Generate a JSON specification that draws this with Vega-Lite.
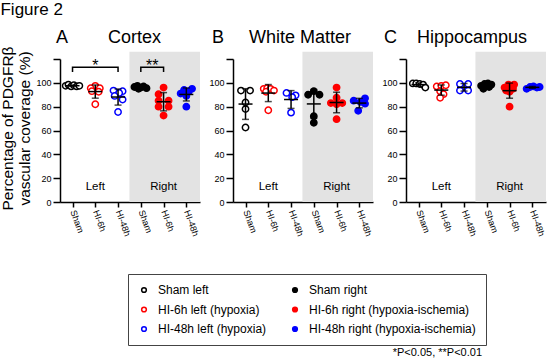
{
  "$schema": "https://vega.github.io/schema/vega-lite/v6.json",
  "padding": {"left": 0, "top": 0, "right": 2, "bottom": 0},
  "config": {
    "font": "Liberation Sans",
    "view": {"stroke": null},
    "title": {"fontWeight": "normal", "color": "black", "font": "Liberation Sans"},
    "axis": {"grid": false, "domainColor": "black", "tickColor": "black", "domainWidth": 1.5, "tickWidth": 1.5, "labelColor": "black", "titleColor": "black", "labelOverlap": false},
    "legend": {"columns": 2, "columnPadding": 22, "rowPadding": 7.5, "padding": 10, "strokeColor": "#444", "labelFontSize": 12, "labelColor": "black", "labelLimit": 400, "symbolSize": 22, "symbolStrokeWidth": 1.5, "labelOffset": 8}
  },
  "datasets": {
    "pts": [
      {"r":"Cortex","k":"Sham left","p":1,"x":0.7,"v":97.5},
      {"r":"Cortex","k":"Sham left","p":1,"x":0.82,"v":98.5},
      {"r":"Cortex","k":"Sham left","p":1,"x":0.94,"v":97},
      {"r":"Cortex","k":"Sham left","p":1,"x":1.06,"v":98},
      {"r":"Cortex","k":"Sham left","p":1,"x":1.18,"v":97},
      {"r":"Cortex","k":"Sham left","p":1,"x":1.3,"v":97.5},
      {"r":"Cortex","k":"HI-6h left (hypoxia)","p":2,"x":2.0,"v":97.5},
      {"r":"Cortex","k":"HI-6h left (hypoxia)","p":2,"x":1.8,"v":95.5},
      {"r":"Cortex","k":"HI-6h left (hypoxia)","p":2,"x":2.2,"v":95.5},
      {"r":"Cortex","k":"HI-6h left (hypoxia)","p":2,"x":1.85,"v":93},
      {"r":"Cortex","k":"HI-6h left (hypoxia)","p":2,"x":2.15,"v":92.5},
      {"r":"Cortex","k":"HI-6h left (hypoxia)","p":2,"x":2.0,"v":82},
      {"r":"Cortex","k":"HI-48h left (hypoxia)","p":3,"x":2.8,"v":93.5},
      {"r":"Cortex","k":"HI-48h left (hypoxia)","p":3,"x":3.2,"v":93},
      {"r":"Cortex","k":"HI-48h left (hypoxia)","p":3,"x":3.05,"v":91.5},
      {"r":"Cortex","k":"HI-48h left (hypoxia)","p":3,"x":2.85,"v":89},
      {"r":"Cortex","k":"HI-48h left (hypoxia)","p":3,"x":3.2,"v":86},
      {"r":"Cortex","k":"HI-48h left (hypoxia)","p":3,"x":3.0,"v":75.5},
      {"r":"Cortex","k":"Sham right","p":4,"x":3.72,"v":96.5},
      {"r":"Cortex","k":"Sham right","p":4,"x":3.85,"v":97.5},
      {"r":"Cortex","k":"Sham right","p":4,"x":4.0,"v":96},
      {"r":"Cortex","k":"Sham right","p":4,"x":4.12,"v":97},
      {"r":"Cortex","k":"Sham right","p":4,"x":4.25,"v":95.5},
      {"r":"Cortex","k":"Sham right","p":4,"x":3.9,"v":95},
      {"r":"Cortex","k":"HI-6h right (hypoxia-ischemia)","p":5,"x":5.0,"v":96},
      {"r":"Cortex","k":"HI-6h right (hypoxia-ischemia)","p":5,"x":4.78,"v":90.5},
      {"r":"Cortex","k":"HI-6h right (hypoxia-ischemia)","p":5,"x":4.78,"v":85},
      {"r":"Cortex","k":"HI-6h right (hypoxia-ischemia)","p":5,"x":5.22,"v":85},
      {"r":"Cortex","k":"HI-6h right (hypoxia-ischemia)","p":5,"x":4.78,"v":80},
      {"r":"Cortex","k":"HI-6h right (hypoxia-ischemia)","p":5,"x":5.22,"v":80},
      {"r":"Cortex","k":"HI-6h right (hypoxia-ischemia)","p":5,"x":5.0,"v":72.5},
      {"r":"Cortex","k":"HI-48h right (hypoxia-ischemia)","p":6,"x":5.75,"v":91},
      {"r":"Cortex","k":"HI-48h right (hypoxia-ischemia)","p":6,"x":5.9,"v":94},
      {"r":"Cortex","k":"HI-48h right (hypoxia-ischemia)","p":6,"x":6.1,"v":92.5},
      {"r":"Cortex","k":"HI-48h right (hypoxia-ischemia)","p":6,"x":6.25,"v":95},
      {"r":"Cortex","k":"HI-48h right (hypoxia-ischemia)","p":6,"x":6.0,"v":89},
      {"r":"Cortex","k":"HI-48h right (hypoxia-ischemia)","p":6,"x":6.0,"v":80},
      {"r":"White Matter","k":"Sham left","p":1,"x":0.8,"v":93.5},
      {"r":"White Matter","k":"Sham left","p":1,"x":1.2,"v":93.5},
      {"r":"White Matter","k":"Sham left","p":1,"x":1.0,"v":83.5},
      {"r":"White Matter","k":"Sham left","p":1,"x":1.0,"v":78},
      {"r":"White Matter","k":"Sham left","p":1,"x":1.0,"v":62.5},
      {"r":"White Matter","k":"HI-6h left (hypoxia)","p":2,"x":1.8,"v":95},
      {"r":"White Matter","k":"HI-6h left (hypoxia)","p":2,"x":1.95,"v":95.5},
      {"r":"White Matter","k":"HI-6h left (hypoxia)","p":2,"x":2.1,"v":95},
      {"r":"White Matter","k":"HI-6h left (hypoxia)","p":2,"x":2.25,"v":93.5},
      {"r":"White Matter","k":"HI-6h left (hypoxia)","p":2,"x":1.9,"v":92.5},
      {"r":"White Matter","k":"HI-6h left (hypoxia)","p":2,"x":2.0,"v":77},
      {"r":"White Matter","k":"HI-48h left (hypoxia)","p":3,"x":2.8,"v":91.5},
      {"r":"White Matter","k":"HI-48h left (hypoxia)","p":3,"x":3.2,"v":89.5},
      {"r":"White Matter","k":"HI-48h left (hypoxia)","p":3,"x":3.05,"v":88},
      {"r":"White Matter","k":"HI-48h left (hypoxia)","p":3,"x":3.0,"v":75},
      {"r":"White Matter","k":"Sham right","p":4,"x":4.0,"v":93},
      {"r":"White Matter","k":"Sham right","p":4,"x":3.75,"v":90},
      {"r":"White Matter","k":"Sham right","p":4,"x":4.25,"v":90},
      {"r":"White Matter","k":"Sham right","p":4,"x":4.0,"v":72},
      {"r":"White Matter","k":"Sham right","p":4,"x":4.0,"v":66.5},
      {"r":"White Matter","k":"HI-6h right (hypoxia-ischemia)","p":5,"x":5.0,"v":96},
      {"r":"White Matter","k":"HI-6h right (hypoxia-ischemia)","p":5,"x":5.0,"v":87.5},
      {"r":"White Matter","k":"HI-6h right (hypoxia-ischemia)","p":5,"x":4.75,"v":83},
      {"r":"White Matter","k":"HI-6h right (hypoxia-ischemia)","p":5,"x":5.0,"v":82},
      {"r":"White Matter","k":"HI-6h right (hypoxia-ischemia)","p":5,"x":5.25,"v":83},
      {"r":"White Matter","k":"HI-6h right (hypoxia-ischemia)","p":5,"x":5.0,"v":69.5},
      {"r":"White Matter","k":"HI-48h right (hypoxia-ischemia)","p":6,"x":5.75,"v":85},
      {"r":"White Matter","k":"HI-48h right (hypoxia-ischemia)","p":6,"x":6.25,"v":87},
      {"r":"White Matter","k":"HI-48h right (hypoxia-ischemia)","p":6,"x":6.05,"v":84},
      {"r":"White Matter","k":"HI-48h right (hypoxia-ischemia)","p":6,"x":6.25,"v":82.5},
      {"r":"White Matter","k":"HI-48h right (hypoxia-ischemia)","p":6,"x":5.95,"v":76.5},
      {"r":"Hippocampus","k":"Sham left","p":1,"x":0.75,"v":99.5},
      {"r":"Hippocampus","k":"Sham left","p":1,"x":0.9,"v":99.5},
      {"r":"Hippocampus","k":"Sham left","p":1,"x":1.05,"v":99},
      {"r":"Hippocampus","k":"Sham left","p":1,"x":1.2,"v":98.5},
      {"r":"Hippocampus","k":"Sham left","p":1,"x":1.3,"v":96},
      {"r":"Hippocampus","k":"HI-6h left (hypoxia)","p":2,"x":1.8,"v":97},
      {"r":"Hippocampus","k":"HI-6h left (hypoxia)","p":2,"x":2.0,"v":97.5},
      {"r":"Hippocampus","k":"HI-6h left (hypoxia)","p":2,"x":2.2,"v":98},
      {"r":"Hippocampus","k":"HI-6h left (hypoxia)","p":2,"x":1.95,"v":93},
      {"r":"Hippocampus","k":"HI-6h left (hypoxia)","p":2,"x":2.1,"v":90.5},
      {"r":"Hippocampus","k":"HI-6h left (hypoxia)","p":2,"x":1.95,"v":87.5},
      {"r":"Hippocampus","k":"HI-48h left (hypoxia)","p":3,"x":2.82,"v":99},
      {"r":"Hippocampus","k":"HI-48h left (hypoxia)","p":3,"x":3.18,"v":99},
      {"r":"Hippocampus","k":"HI-48h left (hypoxia)","p":3,"x":2.82,"v":93.5},
      {"r":"Hippocampus","k":"HI-48h left (hypoxia)","p":3,"x":3.18,"v":93.5},
      {"r":"Hippocampus","k":"Sham right","p":4,"x":3.75,"v":97.5},
      {"r":"Hippocampus","k":"Sham right","p":4,"x":3.9,"v":99},
      {"r":"Hippocampus","k":"Sham right","p":4,"x":4.05,"v":99.5},
      {"r":"Hippocampus","k":"Sham right","p":4,"x":4.2,"v":98.5},
      {"r":"Hippocampus","k":"Sham right","p":4,"x":3.85,"v":95},
      {"r":"Hippocampus","k":"Sham right","p":4,"x":4.1,"v":96.5},
      {"r":"Hippocampus","k":"HI-6h right (hypoxia-ischemia)","p":5,"x":4.78,"v":96},
      {"r":"Hippocampus","k":"HI-6h right (hypoxia-ischemia)","p":5,"x":4.95,"v":98.5},
      {"r":"Hippocampus","k":"HI-6h right (hypoxia-ischemia)","p":5,"x":5.2,"v":98.5},
      {"r":"Hippocampus","k":"HI-6h right (hypoxia-ischemia)","p":5,"x":4.85,"v":93.5},
      {"r":"Hippocampus","k":"HI-6h right (hypoxia-ischemia)","p":5,"x":5.15,"v":95},
      {"r":"Hippocampus","k":"HI-6h right (hypoxia-ischemia)","p":5,"x":5.0,"v":92.5},
      {"r":"Hippocampus","k":"HI-6h right (hypoxia-ischemia)","p":5,"x":5.0,"v":80},
      {"r":"Hippocampus","k":"HI-48h right (hypoxia-ischemia)","p":6,"x":5.75,"v":95},
      {"r":"Hippocampus","k":"HI-48h right (hypoxia-ischemia)","p":6,"x":5.9,"v":96.5},
      {"r":"Hippocampus","k":"HI-48h right (hypoxia-ischemia)","p":6,"x":6.05,"v":97},
      {"r":"Hippocampus","k":"HI-48h right (hypoxia-ischemia)","p":6,"x":6.2,"v":96},
      {"r":"Hippocampus","k":"HI-48h right (hypoxia-ischemia)","p":6,"x":6.32,"v":96.5}
    ],
    "shade": [{"x": 3.5, "x2": 6.6, "v": 0, "v2": 126}],
    "sides": [{"x": 2, "v": 12.5, "t": "Left"}, {"x": 5, "v": 12.5, "t": "Right"}],
    "brk": [
      {"b": 1, "o": 1, "x": 1, "v": 109}, {"b": 1, "o": 2, "x": 1, "v": 113}, {"b": 1, "o": 3, "x": 3, "v": 113}, {"b": 1, "o": 4, "x": 3, "v": 109},
      {"b": 2, "o": 1, "x": 4, "v": 109}, {"b": 2, "o": 2, "x": 4, "v": 113}, {"b": 2, "o": 3, "x": 5, "v": 113}, {"b": 2, "o": 4, "x": 5, "v": 109}
    ],
    "stars": [{"x": 2, "v": 110, "t": "*"}, {"x": 4.5, "v": 110, "t": "**"}]
  },
  "title": {"text": "*P<0.05, **P<0.01", "orient": "bottom", "anchor": "end", "fontSize": 11, "dx": -64, "offset": 1},
  "vconcat": [
    {
      "title": {"text": "Figure 2", "anchor": "start", "frame": "bounds", "fontSize": 17, "baseline": "alphabetic", "offset": -3},
      "spacing": 8,
      "hconcat": [
        {
          "width": 140, "height": 143,
          "title": {"text": "A\u00a0\u00a0\u00a0\u00a0\u00a0\u00a0\u00a0\u00a0Cortex", "anchor": "start", "frame": "group", "dx": -4, "fontSize": 18, "baseline": "alphabetic", "offset": -15},
          "data": {"name": "pts"},
          "transform": [{"filter": "datum.r == 'Cortex'"}],
          "encoding": {
            "x": {"field": "x", "type": "quantitative", "scale": {"domain": [0.45, 6.6], "nice": false, "zero": false},
              "axis": {"title": null, "values": [1, 2, 3, 4, 5, 6], "labelExpr": "datum.value % 3 == 1 ? 'Sham' : (datum.value % 3 == 2 ? 'HI-6h' : 'HI-48h')", "labelAngle": 70, "labelAlign": "left", "labelBaseline": "middle", "labelFontSize": 9, "tickSize": 5, "labelPadding": 3}},
            "y": {"field": "v", "type": "quantitative", "scale": {"domain": [0, 120], "nice": false},
              "axis": {"values": [0, 20, 40, 60, 80, 100, 120], "labelExpr": "datum.value > 100 ? '' : datum.label", "tickSize": 7, "labelPadding": 2, "labelFontSize": 9, "title": ["Percentage of PDGFRβ", "vascular coverage (%)"], "titleFontSize": 15.5, "titleFontWeight": "normal", "titlePadding": 3, "titleY": 69}}
          },
          "layer": [
            {"data": {"name": "shade"}, "mark": {"type": "rect", "color": "#e3e3e3"}, "encoding": {"x2": {"field": "x2"}, "y2": {"field": "v2"}}},
            {"data": {"name": "sides"}, "mark": {"type": "text", "fontSize": 11.5, "color": "black", "baseline": "middle"}, "encoding": {"text": {"field": "t"}}},
            {"data": {"name": "brk"}, "mark": {"type": "line", "color": "black", "strokeWidth": 1.5}, "encoding": {"detail": {"field": "b"}, "order": {"field": "o"}}},
            {"data": {"name": "stars"}, "mark": {"type": "text", "fontSize": 16, "color": "black", "baseline": "alphabetic"}, "encoding": {"text": {"field": "t"}}},
            {"mark": {"type": "point", "shape": "circle", "size": 40, "strokeWidth": 1.5, "opacity": 1},
              "encoding": {
                "fill": {"field": "k", "type": "nominal", "scale": {"domain": ["Sham left", "HI-6h left (hypoxia)", "HI-48h left (hypoxia)", "Sham right", "HI-6h right (hypoxia-ischemia)", "HI-48h right (hypoxia-ischemia)"], "range": ["white", "white", "white", "black", "#ff0000", "#0000ff"]}, "legend": {"title": null, "orient": "none", "legendX": 68, "legendY": 215}},
                "stroke": {"field": "k", "type": "nominal", "scale": {"domain": ["Sham left", "HI-6h left (hypoxia)", "HI-48h left (hypoxia)", "Sham right", "HI-6h right (hypoxia-ischemia)", "HI-48h right (hypoxia-ischemia)"], "range": ["black", "#ff0000", "#0000ff", "black", "#ff0000", "#0000ff"]}, "legend": {"title": null, "orient": "none", "legendX": 68, "legendY": 215}}
              }},
            {"mark": {"type": "errorbar", "extent": "stdev", "orient": "vertical", "color": "black", "thickness": 1.5, "ticks": {"size": 7, "thickness": 1.5, "color": "black"}},
              "encoding": {"x": {"field": "p", "type": "quantitative", "scale": {"domain": [0.45, 6.6], "nice": false, "zero": false}}}},
            {"mark": {"type": "tick", "orient": "horizontal", "size": 14, "thickness": 1.5, "color": "black", "opacity": 1},
              "encoding": {"x": {"field": "p", "type": "quantitative", "scale": {"domain": [0.45, 6.6], "nice": false, "zero": false}}, "y": {"aggregate": "mean", "field": "v", "type": "quantitative"}}}
          ]
        },
        {
          "width": 140, "height": 143,
          "title": {"text": "B\u00a0\u00a0\u00a0\u00a0\u00a0White Matter", "anchor": "start", "frame": "group", "dx": -21, "fontSize": 18, "baseline": "alphabetic", "offset": -9},
          "data": {"name": "pts"},
          "transform": [{"filter": "datum.r == 'White Matter'"}],
          "encoding": {
            "x": {"field": "x", "type": "quantitative", "scale": {"domain": [0.45, 6.6], "nice": false, "zero": false},
              "axis": {"title": null, "values": [1, 2, 3, 4, 5, 6], "labelExpr": "datum.value % 3 == 1 ? 'Sham' : (datum.value % 3 == 2 ? 'HI-6h' : 'HI-48h')", "labelAngle": 70, "labelAlign": "left", "labelBaseline": "middle", "labelFontSize": 9, "tickSize": 5, "labelPadding": 3}},
            "y": {"field": "v", "type": "quantitative", "scale": {"domain": [0, 120], "nice": false},
              "axis": {"values": [0, 20, 40, 60, 80, 100, 120], "labelExpr": "datum.value > 100 ? '' : datum.label", "tickSize": 7, "labelPadding": 2, "labelFontSize": 9, "title": null}}
          },
          "layer": [
            {"data": {"name": "shade"}, "mark": {"type": "rect", "color": "#e3e3e3"}, "encoding": {"x2": {"field": "x2"}, "y2": {"field": "v2"}}},
            {"data": {"name": "sides"}, "mark": {"type": "text", "fontSize": 11.5, "color": "black", "baseline": "middle"}, "encoding": {"text": {"field": "t"}}},
            {"mark": {"type": "point", "shape": "circle", "size": 40, "strokeWidth": 1.5, "opacity": 1},
              "encoding": {
                "fill": {"field": "k", "type": "nominal", "scale": {"domain": ["Sham left", "HI-6h left (hypoxia)", "HI-48h left (hypoxia)", "Sham right", "HI-6h right (hypoxia-ischemia)", "HI-48h right (hypoxia-ischemia)"], "range": ["white", "white", "white", "black", "#ff0000", "#0000ff"]}, "legend": {"title": null, "orient": "none", "legendX": 68, "legendY": 215}},
                "stroke": {"field": "k", "type": "nominal", "scale": {"domain": ["Sham left", "HI-6h left (hypoxia)", "HI-48h left (hypoxia)", "Sham right", "HI-6h right (hypoxia-ischemia)", "HI-48h right (hypoxia-ischemia)"], "range": ["black", "#ff0000", "#0000ff", "black", "#ff0000", "#0000ff"]}, "legend": {"title": null, "orient": "none", "legendX": 68, "legendY": 215}}
              }},
            {"mark": {"type": "errorbar", "extent": "stdev", "orient": "vertical", "color": "black", "thickness": 1.5, "ticks": {"size": 7, "thickness": 1.5, "color": "black"}},
              "encoding": {"x": {"field": "p", "type": "quantitative", "scale": {"domain": [0.45, 6.6], "nice": false, "zero": false}}}},
            {"mark": {"type": "tick", "orient": "horizontal", "size": 14, "thickness": 1.5, "color": "black", "opacity": 1},
              "encoding": {"x": {"field": "p", "type": "quantitative", "scale": {"domain": [0.45, 6.6], "nice": false, "zero": false}}, "y": {"aggregate": "mean", "field": "v", "type": "quantitative"}}}
          ]
        },
        {
          "width": 140, "height": 143,
          "title": {"text": "C\u00a0\u00a0\u00a0\u00a0Hippocampus", "anchor": "start", "frame": "group", "dx": -22, "fontSize": 18, "baseline": "alphabetic", "offset": -9},
          "data": {"name": "pts"},
          "transform": [{"filter": "datum.r == 'Hippocampus'"}],
          "encoding": {
            "x": {"field": "x", "type": "quantitative", "scale": {"domain": [0.45, 6.6], "nice": false, "zero": false},
              "axis": {"title": null, "values": [1, 2, 3, 4, 5, 6], "labelExpr": "datum.value % 3 == 1 ? 'Sham' : (datum.value % 3 == 2 ? 'HI-6h' : 'HI-48h')", "labelAngle": 70, "labelAlign": "left", "labelBaseline": "middle", "labelFontSize": 9, "tickSize": 5, "labelPadding": 3}},
            "y": {"field": "v", "type": "quantitative", "scale": {"domain": [0, 120], "nice": false},
              "axis": {"values": [0, 20, 40, 60, 80, 100, 120], "labelExpr": "datum.value > 100 ? '' : datum.label", "tickSize": 7, "labelPadding": 2, "labelFontSize": 9, "title": null}}
          },
          "layer": [
            {"data": {"name": "shade"}, "mark": {"type": "rect", "color": "#e3e3e3"}, "encoding": {"x2": {"field": "x2"}, "y2": {"field": "v2"}}},
            {"data": {"name": "sides"}, "mark": {"type": "text", "fontSize": 11.5, "color": "black", "baseline": "middle"}, "encoding": {"text": {"field": "t"}}},
            {"mark": {"type": "point", "shape": "circle", "size": 40, "strokeWidth": 1.5, "opacity": 1},
              "encoding": {
                "fill": {"field": "k", "type": "nominal", "scale": {"domain": ["Sham left", "HI-6h left (hypoxia)", "HI-48h left (hypoxia)", "Sham right", "HI-6h right (hypoxia-ischemia)", "HI-48h right (hypoxia-ischemia)"], "range": ["white", "white", "white", "black", "#ff0000", "#0000ff"]}, "legend": {"title": null, "orient": "none", "legendX": 68, "legendY": 215}},
                "stroke": {"field": "k", "type": "nominal", "scale": {"domain": ["Sham left", "HI-6h left (hypoxia)", "HI-48h left (hypoxia)", "Sham right", "HI-6h right (hypoxia-ischemia)", "HI-48h right (hypoxia-ischemia)"], "range": ["black", "#ff0000", "#0000ff", "black", "#ff0000", "#0000ff"]}, "legend": {"title": null, "orient": "none", "legendX": 68, "legendY": 215}}
              }},
            {"mark": {"type": "errorbar", "extent": "stdev", "orient": "vertical", "color": "black", "thickness": 1.5, "ticks": {"size": 7, "thickness": 1.5, "color": "black"}},
              "encoding": {"x": {"field": "p", "type": "quantitative", "scale": {"domain": [0.45, 6.6], "nice": false, "zero": false}}}},
            {"mark": {"type": "tick", "orient": "horizontal", "size": 14, "thickness": 1.5, "color": "black", "opacity": 1},
              "encoding": {"x": {"field": "p", "type": "quantitative", "scale": {"domain": [0.45, 6.6], "nice": false, "zero": false}}, "y": {"aggregate": "mean", "field": "v", "type": "quantitative"}}}
          ]
        }
      ]
    }
  ]
}
